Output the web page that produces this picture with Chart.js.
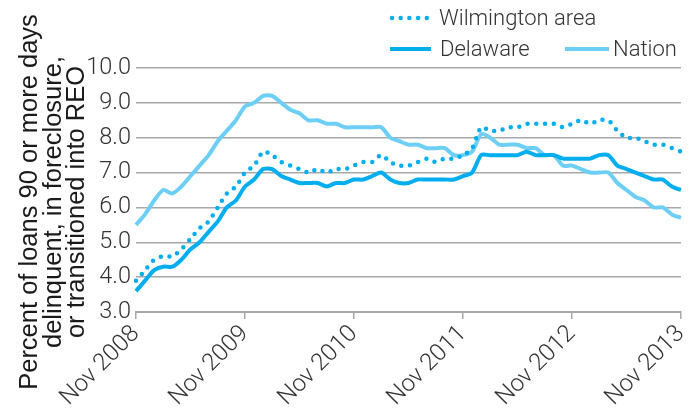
<!DOCTYPE html>
<html>
<head>
<meta charset="utf-8">
<script src="https://cdn.jsdelivr.net/npm/chart.js"></script>
<style>
  html, body { margin: 0; padding: 0; background: #fff; }
  #wrap { width: 688px; height: 408px; position: relative; }
</style>
</head>
<body>
<div id="wrap"><canvas id="chart"></canvas></div>
<script>
// monthly, Nov 2008 .. Nov 2013
const months = [
  'Nov 2008', 'Dec 2008',
  'Jan 2009', 'Feb 2009', 'Mar 2009', 'Apr 2009', 'May 2009', 'Jun 2009', 'Jul 2009', 'Aug 2009', 'Sep 2009', 'Oct 2009', 'Nov 2009', 'Dec 2009',
  'Jan 2010', 'Feb 2010', 'Mar 2010', 'Apr 2010', 'May 2010', 'Jun 2010', 'Jul 2010', 'Aug 2010', 'Sep 2010', 'Oct 2010', 'Nov 2010', 'Dec 2010',
  'Jan 2011', 'Feb 2011', 'Mar 2011', 'Apr 2011', 'May 2011', 'Jun 2011', 'Jul 2011', 'Aug 2011', 'Sep 2011', 'Oct 2011', 'Nov 2011', 'Dec 2011',
  'Jan 2012', 'Feb 2012', 'Mar 2012', 'Apr 2012', 'May 2012', 'Jun 2012', 'Jul 2012', 'Aug 2012', 'Sep 2012', 'Oct 2012', 'Nov 2012', 'Dec 2012',
  'Jan 2013', 'Feb 2013', 'Mar 2013', 'Apr 2013', 'May 2013', 'Jun 2013', 'Jul 2013', 'Aug 2013', 'Sep 2013', 'Oct 2013', 'Nov 2013'
];

const tickLabels = ['Nov 2008', 'Nov 2009', 'Nov 2010', 'Nov 2011', 'Nov 2012', 'Nov 2013'];

const wilmington = [
  3.9, 4.2, 4.5, 4.6, 4.6, 4.8, 5.1, 5.4, 5.6, 6.0, 6.4, 6.6, 7.0, 7.2, 7.6, 7.5,
  7.3, 7.2, 7.1, 7.0, 7.1, 7.0, 7.1, 7.1, 7.2, 7.3, 7.3, 7.5, 7.3, 7.2, 7.2,
  7.3, 7.4, 7.3, 7.4, 7.4, 7.5, 7.7, 8.3, 8.2, 8.2, 8.3, 8.3, 8.4, 8.4, 8.4,
  8.4, 8.3, 8.4, 8.5, 8.4, 8.5, 8.5, 8.2, 8.0, 8.0, 7.9, 7.8, 7.8, 7.7, 7.6
];

const delaware = [
  3.6, 3.9, 4.2, 4.3, 4.3, 4.5, 4.8, 5.0, 5.3, 5.6, 6.0, 6.2, 6.6, 6.8, 7.1, 7.1,
  6.9, 6.8, 6.7, 6.7, 6.7, 6.6, 6.7, 6.7, 6.8, 6.8, 6.9, 7.0, 6.8, 6.7, 6.7,
  6.8, 6.8, 6.8, 6.8, 6.8, 6.9, 7.0, 7.5, 7.5, 7.5, 7.5, 7.5, 7.6, 7.5, 7.5,
  7.5, 7.4, 7.4, 7.4, 7.4, 7.5, 7.5, 7.2, 7.1, 7.0, 6.9, 6.8, 6.8, 6.6, 6.5
];

const nation = [
  5.5, 5.8, 6.2, 6.5, 6.4, 6.6, 6.9, 7.2, 7.5, 7.9, 8.2, 8.5, 8.9, 9.0, 9.2, 9.2,
  9.0, 8.8, 8.7, 8.5, 8.5, 8.4, 8.4, 8.3, 8.3, 8.3, 8.3, 8.3, 8.0, 7.9, 7.8,
  7.8, 7.7, 7.7, 7.7, 7.5, 7.5, 7.6, 8.1, 8.0, 7.8, 7.8, 7.8, 7.7, 7.7, 7.5,
  7.5, 7.2, 7.2, 7.1, 7.0, 7.0, 7.0, 6.7, 6.5, 6.3, 6.2, 6.0, 6.0, 5.8, 5.7
];

const yTitle = ['Percent of loans 90 or more days', 'delinquent, in foreclosure,', 'or transitioned into REO'];

const DARK = '#00aeef';
const LIGHT = '#6dcff6';
const GRID = '#a6a8ab';
const LIGHT_FONT = '"Roboto", "Liberation Sans", sans-serif';

// legend + axis title drawn straight onto the canvas
const extras = {
  id: 'extras',
  afterDraw(chart) {
    const ctx = chart.ctx;
    const ds = chart.data.datasets;
    ctx.save();

    // y title
    ctx.fillStyle = '#1a1a1a';
    ctx.font = '25.5px "Liberation Sans", Arial, sans-serif';
    ctx.textAlign = 'center';
    ctx.textBaseline = 'alphabetic';
    const baseX = [37, 61, 84];
    yTitle.forEach((line, i) => {
      ctx.save();
      ctx.translate(baseX[i], 202);
      ctx.rotate(-Math.PI / 2);
      ctx.fillText(line, 0, 0);
      ctx.restore();
    });

    // legend
    const drawSample = (d, x0, x1, y) => {
      ctx.save();
      ctx.strokeStyle = d.borderColor;
      ctx.lineWidth = d.borderWidth;
      ctx.lineCap = d.borderCapStyle || 'butt';
      ctx.setLineDash(d.borderDash || []);
      ctx.beginPath();
      ctx.moveTo(x0, y);
      ctx.lineTo(x1, y);
      ctx.stroke();
      ctx.restore();
    };
    ctx.font = '300 22px ' + LIGHT_FONT;
    ctx.fillStyle = '#333';
    ctx.textAlign = 'left';
    ctx.textBaseline = 'middle';
    drawSample(ds[0], 392, 430, 18);
    ctx.fillText(ds[0].label, 439, 19);
    drawSample(ds[1], 390, 431, 49);
    ctx.fillText(ds[1].label, 440, 50);
    drawSample(ds[2], 565, 609, 49);
    ctx.fillText(ds[2].label, 613, 50);

    ctx.restore();
  }
};

new Chart(document.getElementById('chart'), {
  type: 'line',
  data: {
    labels: months,
    datasets: [
      {
        label: 'Wilmington area',
        data: wilmington,
        borderColor: DARK,
        borderWidth: 4.5,
        borderDash: [0, 8.7],
        borderCapStyle: 'round',
        pointRadius: 0,
        tension: 0.25,
        fill: false
      },
      {
        label: 'Delaware',
        data: delaware,
        borderColor: DARK,
        borderWidth: 4,
        pointRadius: 0,
        tension: 0.25,
        fill: false
      },
      {
        label: 'Nation',
        data: nation,
        borderColor: LIGHT,
        borderWidth: 4,
        pointRadius: 0,
        tension: 0.25,
        fill: false
      }
    ]
  },
  options: {
    responsive: true,
    maintainAspectRatio: false,
    animation: false,
    layout: { padding: { left: 0, right: 7, top: 68, bottom: 0 } },
    plugins: {
      legend: { display: false },
      tooltip: { enabled: false }
    },
    scales: {
      x: {
        offset: false,
        afterFit(scale) {
          scale.height = 96;
          scale.paddingRight = 0;
          scale.paddingLeft = 0;
        },
        grid: {
          drawOnChartArea: false,
          drawTicks: true,
          tickLength: 7,
          color: GRID,
          lineWidth: 1.5
        },
        border: { display: true, color: GRID, width: 2 },
        ticks: {
          autoSkip: false,
          maxRotation: 45,
          minRotation: 45,
          padding: 1,
          color: '#333',
          font: { family: LIGHT_FONT, size: 24, weight: 300 },
          callback(value, index) {
            return index % 12 === 0 ? tickLabels[index / 12] : null;
          }
        }
      },
      y: {
        min: 3,
        max: 10,
        afterFit(scale) { scale.width = 136; },
        grid: { drawTicks: false, color: GRID, lineWidth: 1.5 },
        border: { display: false },
        ticks: {
          stepSize: 1,
          padding: 5,
          color: '#333',
          font: { family: LIGHT_FONT, size: 23.5, weight: 300 },
          callback(v) { return v.toFixed(1); }
        }
      }
    }
  },
  plugins: [extras]
});
</script>
</body>
</html>
